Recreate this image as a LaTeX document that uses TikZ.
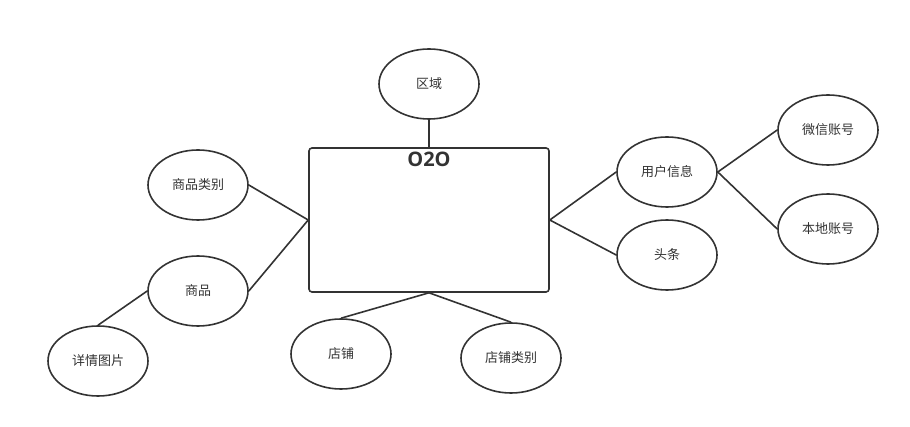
\documentclass[tikz,border=0pt]{standalone}
\usepackage{fontspec}
\setmainfont{Noto Sans CJK SC}
\newfontfamily\titlefont{Open Sans}
\usepackage{tikz}
\usetikzlibrary{shapes}
\definecolor{linegray}{RGB}{51,51,51}
\tikzstyle{entity}=[ellipse,draw=linegray,line width=1.6pt,minimum width=100pt,minimum height=70pt,inner sep=0pt,font=\fontsize{13}{15}\selectfont,text=linegray]
\tikzstyle{box}=[rectangle,draw=linegray,line width=1.6pt,rounded corners=3pt,minimum width=240pt,minimum height=144pt,inner sep=0pt]
\tikzstyle{edge} = [draw=linegray,line width=1.6pt,-]

\begin{document}
\begin{tikzpicture}[x=1pt,y=-1pt]

            \path[use as bounding box] (0,0) rectangle (910,427);

            \node[box] (o2o) at (429,220) {};
            \node[font=\titlefont\fontsize{20}{22}\selectfont\bfseries,text=linegray] (title) at (429,159) {O2O};

            \node[entity] (quyu) at (429,84) {区域};
            \node[entity] (splb) at (198,185) {商品类别};
            \node[entity] (sp) at (198,291) {商品};
            \node[entity] (xqtp) at (98,361) {详情图片};
            \node[entity] (dp) at (341,354) {店铺};
            \node[entity] (dplb) at (511,358) {店铺类别};
            \node[entity] (yhxx) at (667,172) {用户信息};
            \node[entity] (tt) at (667,255) {头条};
            \node[entity] (wxzh) at (828,130) {微信账号};
            \node[entity] (bdzh) at (828,229) {本地账号};

            \path[edge] (quyu) -- (o2o.north);
            \path[edge] (splb.east) -- (o2o.west);
            \path[edge] (sp.east) -- (o2o.west);
            \path[edge] (xqtp.north) -- (sp.west);
            \path[edge] (o2o.south) -- (dp.north);
            \path[edge] (o2o.south) -- (dplb.north);
            \path[edge] (o2o.east) -- (yhxx.west);
            \path[edge] (o2o.east) -- (tt.west);
            \path[edge] (yhxx.east) -- (wxzh.west);
            \path[edge] (yhxx.east) -- (bdzh.west);

        \end{tikzpicture}
\end{document}
